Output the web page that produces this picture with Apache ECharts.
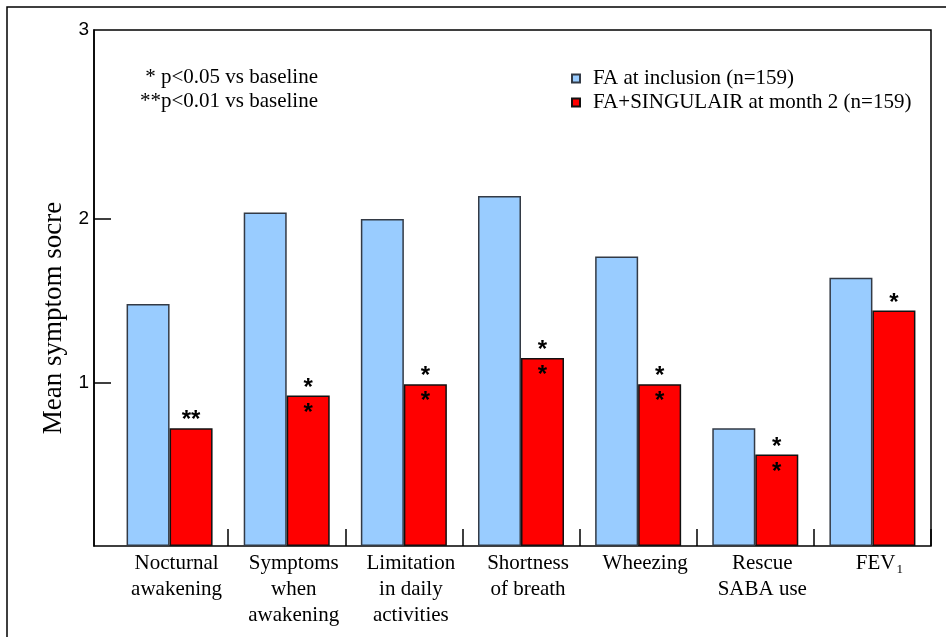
<!DOCTYPE html>
<html>
<head>
<meta charset="utf-8">
<script src="https://cdn.jsdelivr.net/npm/echarts@6/dist/echarts.min.js"></script>
<style>
  html, body { margin: 0; padding: 0; background: #fff; }
  #chart { width: 946px; height: 637px; }
</style>
</head>
<body>
<div id="chart"></div>
<script>
// ---- data ----
const categories = ['Nocturnal\nawakening', 'Symptoms\nwhen\nawakening', 'Limitation\nin daily\nactivities', 'Shortness\nof breath', 'Wheezing', 'Rescue\nSABA use', 'FEV1'];
const baselineValues = [1.48, 2.04, 2.00, 2.14, 1.77, 0.72, 1.64];
const month2Values = [0.72, 0.92, 0.99, 1.15, 0.99, 0.56, 1.44];
const significance = ['**', '*\n*', '*\n*', '*\n*', '*\n*', '*\n*', '*'];
const seriesNames = ['FA at inclusion (n=159)', 'FA+SINGULAIR at month 2 (n=159)'];
const yTickValues = [1, 2, 3];
const yAxisTop = 3.156;
const yAxisTitle = 'Mean symptom socre';
const noteLines = ['* p<0.05 vs baseline', '**p<0.01 vs baseline'];

const SERIF = '"Liberation Serif", "Times New Roman", serif';
const SANS = '"Liberation Sans", Arial, sans-serif';

const chart = echarts.init(document.getElementById('chart'), null, { renderer: 'canvas' });

// position of the tick labels: the top label sits at the top of the frame
const yLabelPositions = yTickValues.map(v => (v === 3 ? yAxisTop : v));

const option = {
  backgroundColor: '#fff',
  animation: false,
  graphic: [
    {
      type: 'rect',
      shape: { x: 7, y: 7, width: 1200, height: 1200 },
      style: { fill: 'none', stroke: '#000', lineWidth: 1.5 },
      silent: true
    },
    {
      type: 'text',
      x: 318, y: 65,
      style: {
        text: noteLines.join('\n'),
        font: '21px ' + SERIF,
        textAlign: 'right',
        lineHeight: 24,
        fill: '#000'
      }
    }
  ],
  legend: {
    orient: 'vertical',
    left: 571,
    top: 68,
    padding: 0,
    itemWidth: 8,
    itemHeight: 8,
    itemGap: 3,
    icon: 'rect',
    selectedMode: false,
    textStyle: { fontFamily: SERIF, fontSize: 21, color: '#000', padding: [0, 0, 0, 8] },
    data: seriesNames
  },
  grid: [
    { left: 94, top: 30, width: 837, height: 516, show: true, borderColor: '#000', borderWidth: 1.5, backgroundColor: 'transparent' },
    { left: 111, top: 30, width: 820, height: 516 }
  ],
  xAxis: [
    { gridIndex: 0, type: 'value', min: 0, max: 1, show: false },
    {
      gridIndex: 1,
      type: 'category',
      data: categories,
      axisLine: { show: false },
      axisTick: { show: true, inside: true, length: 17, interval: (i) => i > 0, lineStyle: { color: '#000', width: 1.5 } },
      axisLabel: {
        interval: 0,
        margin: 4,
        fontFamily: SERIF,
        fontSize: 21,
        lineHeight: 26,
        color: '#000',
        padding: [0, 0, 0, 14],
        formatter: (v) => (v === 'FEV1' ? 'FEV{sub|1}' : v),
        rich: {
          sub: { fontFamily: SERIF, fontSize: 13, color: '#000', verticalAlign: 'bottom', lineHeight: 13, padding: [14, 0, 0, 1] }
        }
      }
    }
  ],
  yAxis: [
    {
      gridIndex: 0,
      type: 'value',
      min: 0,
      max: yAxisTop,
      name: yAxisTitle,
      nameLocation: 'middle',
      nameGap: 26,
      nameTextStyle: { fontFamily: SERIF, fontSize: 27, color: '#000', padding: [0, 60, 0, 0] },
      axisLine: { show: true, lineStyle: { color: '#000', width: 1.5 } },
      axisTick: { show: true, inside: true, length: 17, customValues: [1, 2], lineStyle: { color: '#000', width: 1.5 } },
      axisLabel: {
        customValues: yLabelPositions,
        formatter: (v) => String(yTickValues[yLabelPositions.indexOf(v)] ?? ''),
        fontFamily: SANS,
        fontSize: 19,
        color: '#000',
        margin: 5
      },
      splitLine: { show: false }
    },
    { gridIndex: 1, type: 'value', min: 0, max: yAxisTop, show: false }
  ],
  series: [
    {
      name: seriesNames[0],
      type: 'bar',
      xAxisIndex: 1,
      yAxisIndex: 1,
      data: baselineValues,
      barWidth: 43,
      barGap: '0%',
      itemStyle: { color: '#99ccff', borderColor: '#333a45', borderWidth: 1.5 }
    },
    {
      name: seriesNames[1],
      type: 'bar',
      xAxisIndex: 1,
      yAxisIndex: 1,
      data: month2Values,
      barWidth: 43,
      barGap: '0%',
      itemStyle: { color: '#ff0000', borderColor: '#111', borderWidth: 1.5 },
      label: {
        show: true,
        position: 'top',
        distance: -30,
        formatter: (p) => {
          const s = significance[p.dataIndex];
          return s.indexOf('\n') >= 0 ? s : s + '\n ';
        },
        fontFamily: SANS,
        fontWeight: 'bold',
        fontSize: 24,
        lineHeight: 25,
        color: '#000'
      }
    }
  ]
};

chart.setOption(option);
</script>
</body>
</html>
